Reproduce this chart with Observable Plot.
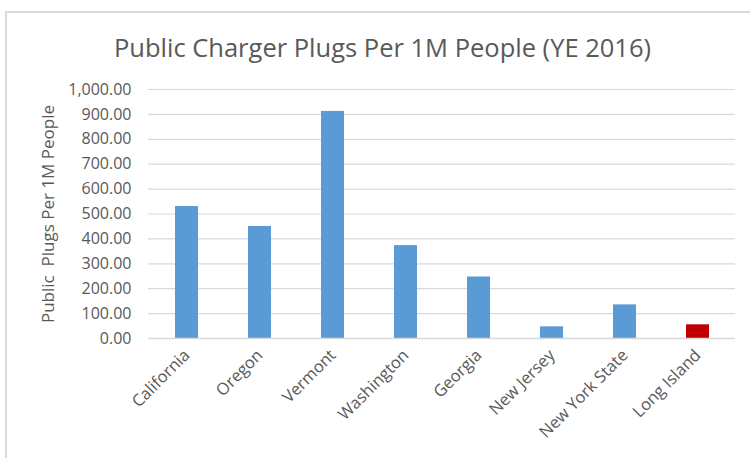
<!DOCTYPE html>
<html>
<head>
<meta charset="utf-8">
<script src="https://cdn.jsdelivr.net/npm/d3@7"></script>
<script src="https://cdn.jsdelivr.net/npm/@observablehq/plot@0.6"></script>
<style>
  html, body { margin: 0; padding: 0; background: #fff; }
  #wrap { position: relative; width: 750px; height: 458px; overflow: hidden; font-family: "Open Sans", sans-serif; }
  #frame { position: absolute; left: 5px; top: 11px; width: 780px; height: 470px; border: 2px solid #d9d9d9; box-sizing: border-box; }
  #title { position: absolute; left: 0; top: 27px; width: 765px; text-align: center; font-size: 25.5px; color: #595959; line-height: 40px; }
  #chart { position: absolute; left: 0; top: 70px; }
</style>
</head>
<body>
<div id="wrap">
  <div id="frame"></div>
  <div id="title">Public Charger Plugs Per 1M People (YE 2016)</div>
  <div id="chart"></div>
</div>
<script>
const categories = ["California", "Oregon", "Vermont", "Washington", "Georgia", "New Jersey", "New York State", "Long Island"];
const values = [530, 450, 912, 373, 247, 47, 135, 55];
const highlight = ["Long Island"];
const yTicks = [0, 100, 200, 300, 400, 500, 600, 700, 800, 900, 1000];
const yLabel = "Public\u00a0 Plugs Per 1M People";

const data = categories.map((c, i) => ({category: c, value: values[i], hl: highlight.includes(c)}));

const chart = Plot.plot({
  width: 750,
  height: 388,
  marginTop: 19,
  marginBottom: 120,
  marginLeft: 148,
  marginRight: 15,
  style: {fontFamily: "Open Sans, sans-serif", color: "#595959", background: "transparent", overflow: "visible"},
  x: {domain: categories, paddingInner: 0.69, paddingOuter: 0.345, label: null},
  y: {domain: [0, 1000], label: null},
  marks: [
    Plot.gridY(yTicks, {stroke: "#d9d9d9", strokeOpacity: 1, strokeWidth: 1.2}),
    Plot.barY(data, {x: "category", y: "value", fill: d => d.hl ? "#c00000" : "#5b9bd5"}),
    Plot.ruleY([0], {stroke: "#d9d9d9", strokeWidth: 1.5}),
    Plot.axisY({ticks: yTicks, tickFormat: d3.format(",.2f"), tickSize: 0, tickPadding: 17, fontSize: 16, fill: "#595959", label: null}),
    Plot.text([yLabel], {frameAnchor: "left", textAnchor: "middle", rotate: -90, dx: -100, fontSize: 17, fill: "#595959"}),
    Plot.axisX({tickSize: 0, tickRotate: -45, tickPadding: 14, fontSize: 16.5, fill: "#595959", label: null})
  ]
});
document.getElementById("chart").appendChild(chart);
</script>
</body>
</html>
